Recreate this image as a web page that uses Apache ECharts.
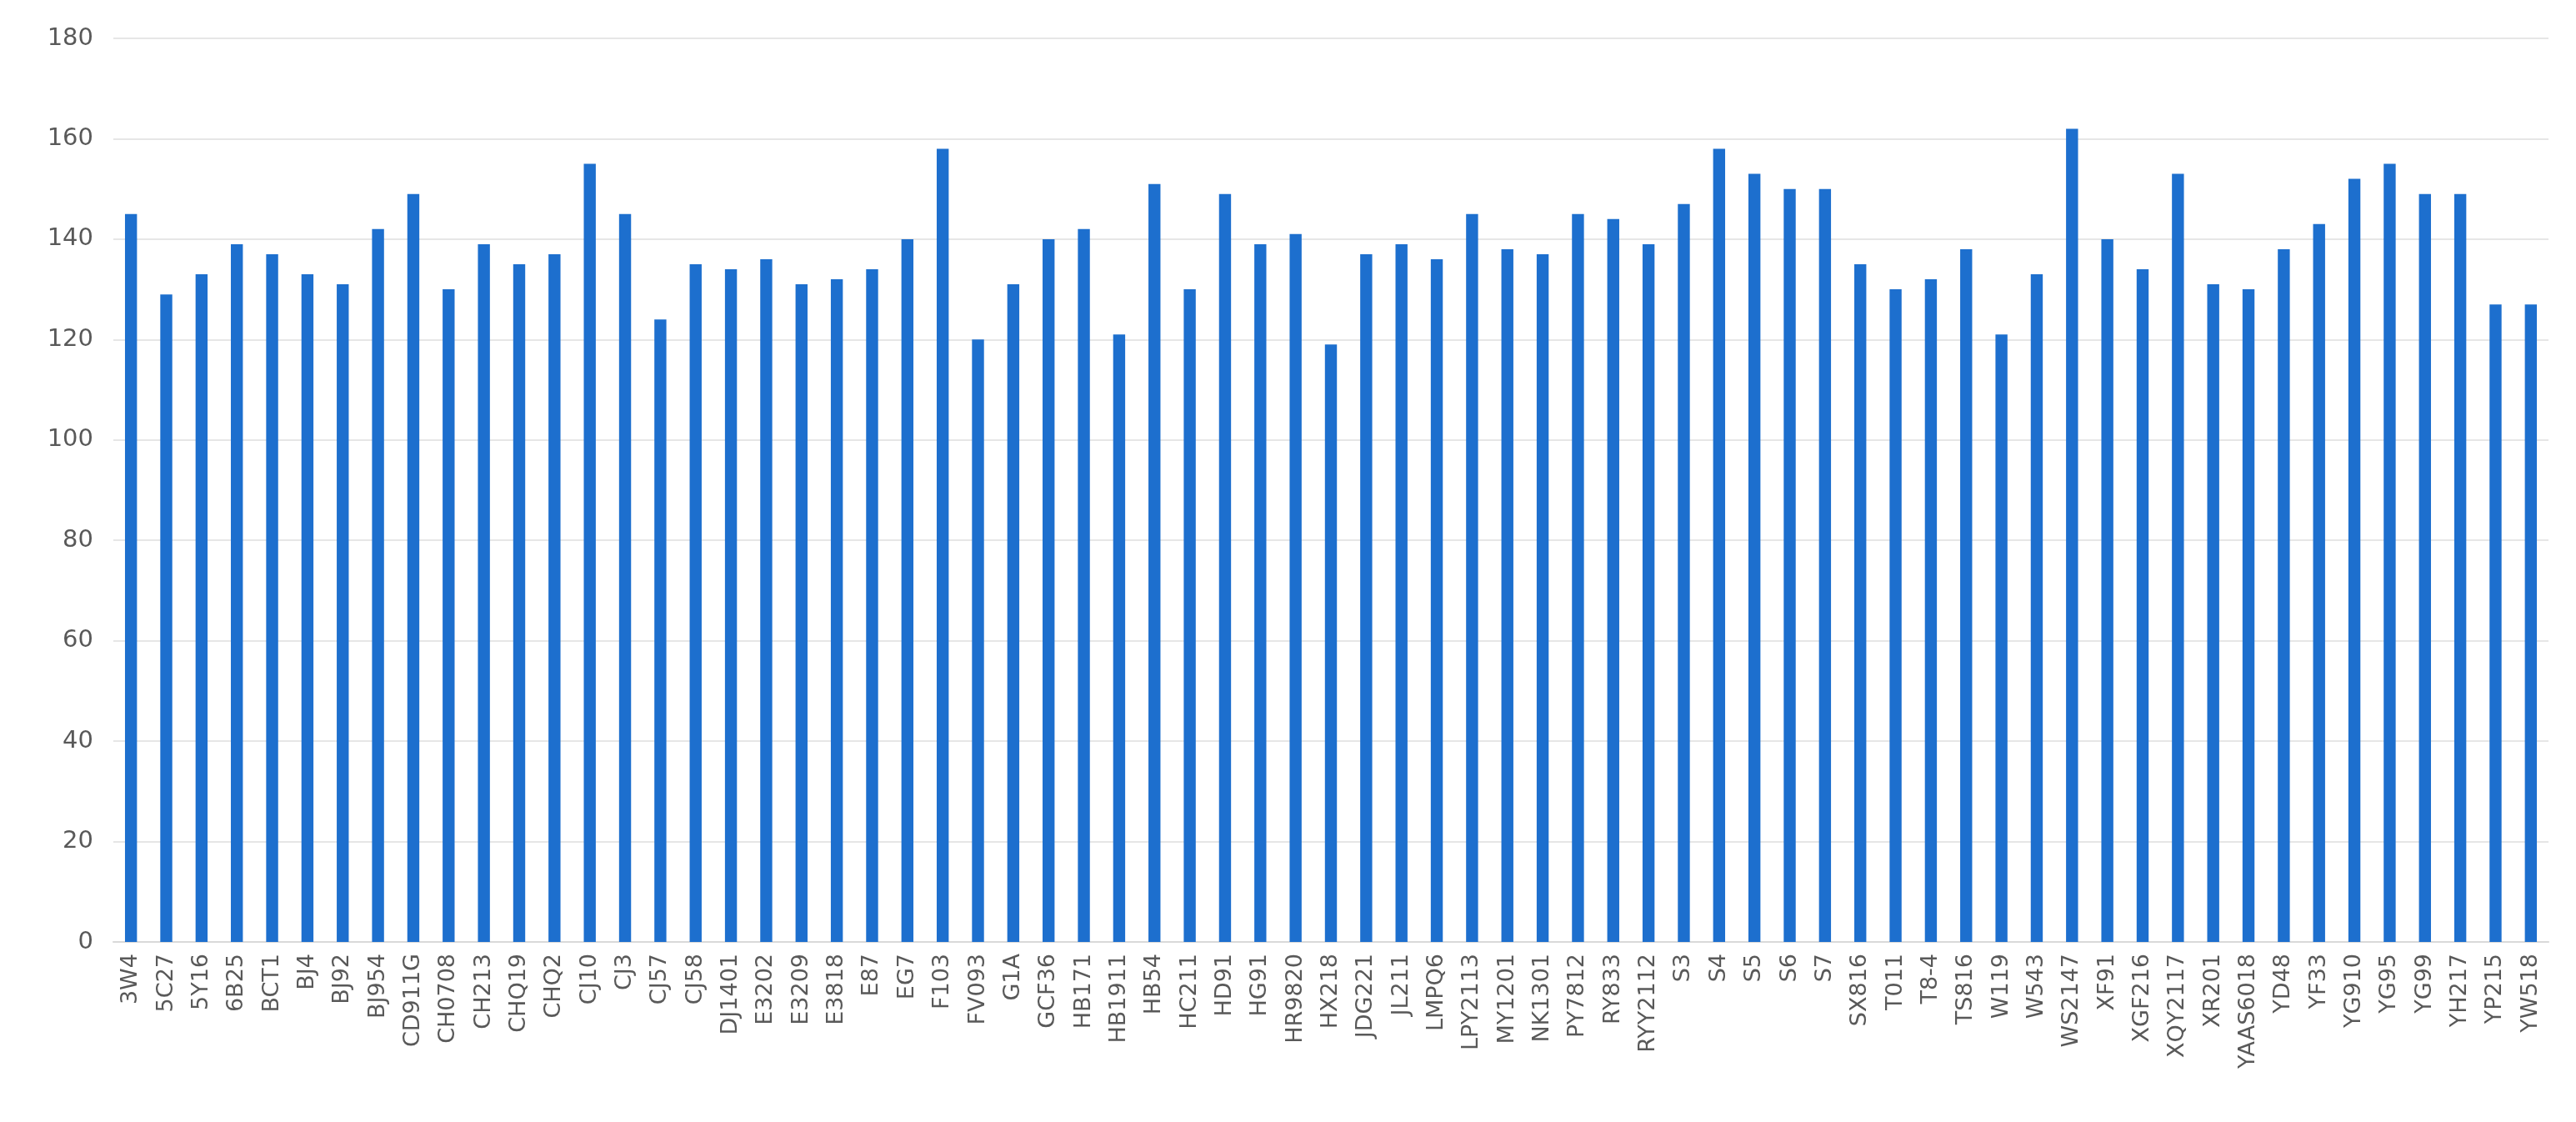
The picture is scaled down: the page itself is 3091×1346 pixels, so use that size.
<!DOCTYPE html>
<html>
<head>
<meta charset="utf-8">
<script src="https://cdn.jsdelivr.net/npm/echarts@6/dist/echarts.min.js"></script>
<style>html,body{margin:0;padding:0;background:#fff}#chart{width:3091px;height:1346px}</style>
</head>
<body>
<div id="chart"></div>
<script>
const categories = ['3W4','5C27','5Y16','6B25','BCT1','BJ4','BJ92','BJ954','CD911G','CH0708','CH213','CHQ19','CHQ2','CJ10','CJ3','CJ57','CJ58','DJ1401','E3202','E3209','E3818','E87','EG7','F103','FV093','G1A','GCF36','HB171','HB1911','HB54','HC211','HD91','HG91','HR9820','HX218','JDG221','JL211','LMPQ6','LPY2113','MY1201','NK1301','PY7812','RY833','RYY2112','S3','S4','S5','S6','S7','SX816','T011','T8-4','TS816','W119','W543','WS2147','XF91','XGF216','XQY2117','XR201','YAAS6018','YD48','YF33','YG910','YG95','YG99','YH217','YP215','YW518'];
const values = [145,129,133,139,137,133,131,142,149,130,139,135,137,155,145,124,135,134,136,131,132,134,140,158,120,131,140,142,121,151,130,149,139,141,119,137,139,136,145,138,137,145,144,139,147,158,153,150,150,135,130,132,138,121,133,162,140,134,153,131,130,138,143,152,155,149,149,127,127];
const yTicks = { min: 0, max: 180, interval: 20 };

const chart = echarts.init(document.getElementById('chart'));
chart.setOption({
    animation: false,
    grid: { left: 136, right: 33, top: 46, bottom: 216 },
    xAxis: {
        type: 'category',
        data: categories,
        axisTick: { show: false },
        axisLine: { lineStyle: { color: '#d9d9d9', width: 2 } },
        axisLabel: { rotate: 90, interval: 0, color: '#595959', fontSize: 27, fontFamily: 'DejaVu Sans', margin: 14 }
    },
    yAxis: {
        type: 'value',
        min: yTicks.min, max: yTicks.max, interval: yTicks.interval,
        axisLabel: { color: '#595959', fontSize: 29, fontFamily: 'DejaVu Sans', margin: 24 },
        splitLine: { lineStyle: { color: '#e6e6e6', width: 2 } }
    },
    series: [{
        type: 'bar',
        data: values,
        barWidth: '34%',
        itemStyle: { color: '#1d6fce' }
    }]
});
</script>
</body>
</html>
